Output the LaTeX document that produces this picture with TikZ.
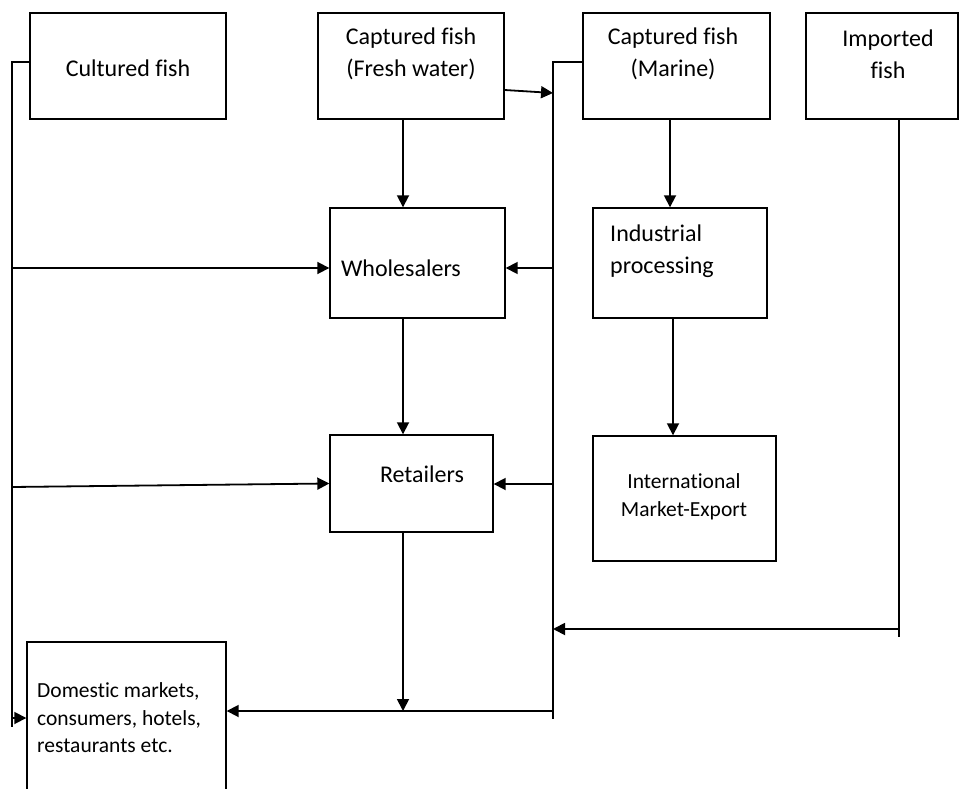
\documentclass[tikz,border=0pt]{standalone}
\usepackage{fontspec}
\setmainfont{Carlito}[Ligatures={NoCommon}]
\usetikzlibrary{arrows.meta,fit}
\begin{document}
\begin{tikzpicture}[x=1pt,y=-1pt,
  box/.style={draw,line width=1.4pt,inner sep=0pt},
  lbl/.style={font=\fontsize{24}{32}\selectfont,align=center,inner sep=0pt},
  slbl/.style={font=\fontsize{21.5}{27.5}\selectfont,align=left,inner sep=0pt},
  conn/.style={line width=1.8pt},
  arr/.style={conn,-{Triangle[length=12pt,width=12pt]}}]
\useasboundingbox (0,0) rectangle (959,789);
\clip (0,0) rectangle (959,789);
% boxes
\node[box,fit={(30,13)(226,119)}] (cult) {};
\node[box,fit={(318,13)(504,119)}] (fw) {};
\node[box,fit={(583,13)(770,119)}] (mar) {};
\node[box,fit={(806,13)(958,119)}] (imp) {};
\node[box,fit={(330,208)(505,318)}] (whole) {};
\node[box,fit={(593,208)(767,318)}] (ind) {};
\node[box,fit={(330,435)(493,532)}] (ret) {};
\node[box,fit={(593,436)(776,561)}] (intl) {};
\node[box,fit={(27,642)(226,810)}] (dom) {};
% texts
\node[lbl] (tcult) at (128,68) {Cultured fish};
\node[lbl] (tfw) at (411,54) {Captured fish\\(Fresh water)};
\node[lbl] (tmar) at (673,54) {Captured fish\\(Marine)};
\node[lbl] (timp) at (888,54) {Imported\\fish};
\node[lbl] (twhole) at (401,268) {Wholesalers};
\node[lbl,align=left,anchor=west] (tind) at (610,251) {Industrial\\processing};
\node[lbl] (tret) at (422,474) {Retailers};
\node[slbl,align=center] (tintl) at (684,497) {International\\Market-Export};
\node[slbl,anchor=west] (tdom) at (37,718) {Domestic markets,\\consumers, hotels,\\restaurants etc.};
% bus coordinates
\coordinate (lb0) at (12,62);
\coordinate (lb1) at (12,727);
\coordinate (lw) at (12,268);
\coordinate (lr) at (12,487);
\coordinate (ld) at (12,718);
\coordinate (mb0) at (553,62);
\coordinate (mb1) at (553,719);
\coordinate (mf) at (553,93);
\coordinate (mw) at (553,268);
\coordinate (mr) at (553,484);
\coordinate (mi) at (553,629);
\coordinate (md) at (553,711);
\coordinate (i0) at (899,629);
\coordinate (i1) at (899,637);
\coordinate (c1) at (403,0);
\coordinate (c2) at (670,0);
\coordinate (c3) at (673,0);
\coordinate (rd) at (403,711);
% connectors
\draw[conn] (cult.west |- lb0) -- (lb0) -- (lb1);
\draw[arr] (lw) -- (whole.west |- lw);
\draw[arr] (lr) -- (ret.west);
\draw[arr] (ld) -- (dom.west |- ld);
\draw[conn] (mar.west |- mb0) -- (mb0) -- (mb1);
\draw[arr] (fw.east |- 0,90) -- (mf);
\draw[arr] (mw) -- (whole.east |- mw);
\draw[arr] (mr) -- (ret.east |- mr);
\draw[conn] (imp.south -| i1) -- (i1);
\draw[arr] (i0) -- (mi);
\draw[arr] (fw.south -| c1) -- (whole.north -| c1);
\draw[arr] (whole.south -| c1) -- (ret.north -| c1);
\draw[arr] (ret.south -| c1) -- (rd);
\draw[arr] (md) -- (dom.east |- md);
\draw[arr] (mar.south -| c2) -- (ind.north -| c2);
\draw[arr] (ind.south -| c3) -- (intl.north -| c3);
\end{tikzpicture}
\end{document}
